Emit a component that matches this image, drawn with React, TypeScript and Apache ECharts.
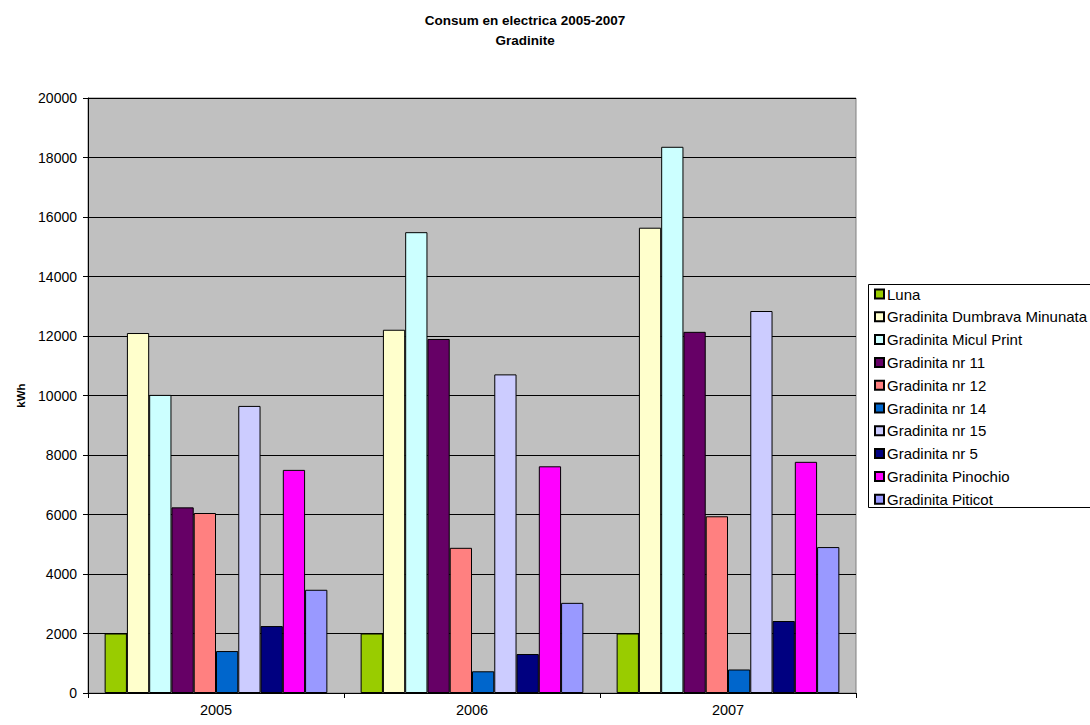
import React, { useEffect, useRef } from "react";
import * as echarts from "echarts";

const years = ["2005", "2006", "2007"];
const seriesNames = [
  "Luna",
  "Gradinita Dumbrava Minunata",
  "Gradinita Micul Print",
  "Gradinita nr 11",
  "Gradinita nr 12",
  "Gradinita nr 14",
  "Gradinita nr 15",
  "Gradinita nr 5",
  "Gradinita Pinochio",
  "Gradinita Piticot",
];
const luna = [2000, 2000, 2000];
const dumbrava = [12100, 12210, 15640];
const miculPrint = [10020, 15490, 18360];
const nr11 = [6240, 11900, 12140];
const nr12 = [6050, 4880, 5940];
const nr14 = [1410, 730, 790];
const nr15 = [9650, 10710, 12840];
const nr5 = [2250, 1310, 2420];
const pinochio = [7500, 7620, 7770];
const piticot = [3470, 3030, 4905];
const seriesValues = [luna, dumbrava, miculPrint, nr11, nr12, nr14, nr15, nr5, pinochio, piticot];
const colors = ["#99CC00", "#FFFFCC", "#CCFFFF", "#660066", "#FF8080", "#0066CC", "#CCCCFF", "#000080", "#FF00FF", "#9999FF"];

const FONT = "'Liberation Sans', Arial, sans-serif";

export default function App() {
  const ref = useRef<HTMLDivElement>(null);
  useEffect(() => {
    if (!ref.current) return;
    const chart = echarts.init(ref.current, undefined, { renderer: "svg" });
    chart.setOption({
      animation: false,
      backgroundColor: "#ffffff",
      title: {
        text: "Consum en electrica 2005-2007\nGradinite",
        left: 520,
        top: 5,
        textAlign: "center",
        textStyle: { fontFamily: FONT, fontSize: 13.5, fontWeight: "bold", color: "#000", lineHeight: 20 },
      },
      graphic: [
        {
          type: "rect",
          shape: { x: 868.5, y: 284.5, width: 240, height: 223 },
          style: { fill: "#fff", stroke: "#000", lineWidth: 1 },
          z: 0,
        },
      ],
      legend: {
        orient: "vertical",
        left: 874,
        top: 286.5,
        itemWidth: 9,
        itemHeight: 9,
        itemGap: 7.8,
        icon: "rect",
        textStyle: { fontFamily: FONT, fontSize: 15, color: "#000", lineHeight: 15, padding: [0, 0, 0, -2] },
        padding: 0,
        data: seriesNames,
        z: 5,
      },
      grid: {
        left: 88,
        right: 234,
        top: 98,
        bottom: 32,
        show: true,
        backgroundColor: "#C0C0C0",
        borderColor: "#808080",
        borderWidth: 1,
      },
      xAxis: {
        type: "category",
        data: years,
        axisLine: { lineStyle: { color: "#000", width: 1 } },
        axisTick: { show: true, length: 5, lineStyle: { color: "#000" } },
        axisLabel: { fontFamily: FONT, fontSize: 14.5, color: "#000", margin: 9 },
      },
      yAxis: {
        type: "value",
        min: 0,
        max: 20000,
        interval: 2000,
        name: "kWh",
        nameLocation: "middle",
        nameGap: 59,
        nameTextStyle: { fontFamily: FONT, fontSize: 11.5, fontWeight: "bold", color: "#000" },
        axisLine: { show: true, lineStyle: { color: "#000", width: 1 } },
        axisTick: { show: true, length: 5, lineStyle: { color: "#000" } },
        axisLabel: {
          fontFamily: FONT,
          fontSize: 14,
          color: "#000",
          margin: 11,
          formatter: (v: number) => String(v),
        },
        splitLine: { show: true, lineStyle: { color: "#000", width: 1 } },
      },
      series: seriesNames.map((name, i) => ({
        name,
        type: "bar",
        data: seriesValues[i],
        barGap: "0%",
        barCategoryGap: "13%",
        itemStyle: { color: colors[i], borderColor: "#000", borderWidth: 1 },
      })),
    });
    return () => chart.dispose();
  }, []);
  return (
    <div
      ref={ref}
      style={{ position: "fixed", left: 0, top: 0, width: 1090, height: 725 }}
    />
  );
}
